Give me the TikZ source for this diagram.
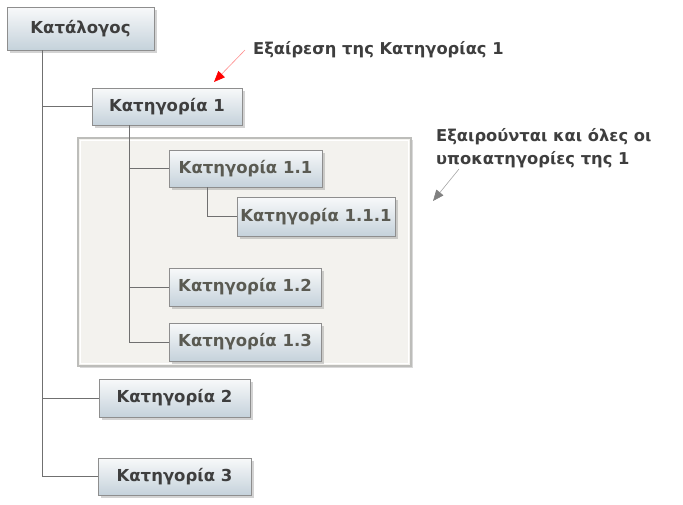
\documentclass[tikz,border=0pt]{standalone}
\usepackage{fontspec}
\setmainfont{DejaVu Sans}
\usetikzlibrary{shadows,arrows.meta,calc}
\definecolor{txtmain}{HTML}{3E3E3E}
\definecolor{txtsub}{HTML}{5A5A52}
\definecolor{boxtop}{HTML}{F8F9FA}
\definecolor{boxbot}{HTML}{C5D2DB}
\definecolor{boxline}{HTML}{8E8E8E}
\definecolor{panelfill}{HTML}{F3F2EE}
\definecolor{panelline}{HTML}{BDBDBA}
\definecolor{conn}{HTML}{707070}
\tikzset{
  catbox/.style={draw=boxline, line width=0.8pt, top color=boxtop, bottom color=boxbot,
    drop shadow={shadow xshift=2.5pt, shadow yshift=-2.5pt, opacity=0.35},
    font=\bfseries\fontsize{16.5}{18}\selectfont, text=txtmain, inner sep=0pt},
  subbox/.style={catbox, text=txtsub},
  conline/.style={draw=conn, line width=0.7pt},
  note/.style={font=\bfseries\fontsize{16.3}{23}\selectfont, text=txtmain, anchor=west, align=left, inner sep=0pt}
}
\begin{document}
\begin{tikzpicture}[x=1pt,y=-1pt]
\useasboundingbox (0,0) rectangle (683,504);
% panel
\node[draw=panelline, line width=1.2pt, fill=panelfill, minimum width=333pt, minimum height=228pt, inner sep=0pt,
  drop shadow={shadow xshift=2pt, shadow yshift=-2pt, opacity=0.3}] (panel) at (244.5,252) {};
\draw[white, line width=0.8pt] ($(panel.north west)+(3,3)$) rectangle ($(panel.south east)+(-3,-3)$);
% nodes
\node[catbox, minimum width=147pt, minimum height=43pt] (cat) at (80.5,28.5) {Κατάλογος};
\node[catbox, minimum width=150pt, minimum height=37pt] (k1) at (167,106.5) {Κατηγορία 1};
\node[subbox, minimum width=153pt, minimum height=37pt] (k11) at (245.5,168.5) {Κατηγορία 1.1};
\node[subbox, minimum width=158pt, minimum height=39pt] (k111) at (316,216.5) {Κατηγορία 1.1.1};
\node[subbox, minimum width=152pt, minimum height=38pt] (k12) at (245,287) {Κατηγορία 1.2};
\node[subbox, minimum width=152pt, minimum height=38pt] (k13) at (245,342) {Κατηγορία 1.3};
\node[catbox, minimum width=151pt, minimum height=38pt] (k2) at (174.5,398) {Κατηγορία 2};
\node[catbox, minimum width=153pt, minimum height=37pt] (k3) at (174.5,476.5) {Κατηγορία 3};
% connector guide coordinates
\coordinate (t) at (42,0);
\coordinate (u) at (129,0);
\coordinate (v) at (207,0);
\draw[conline] (t |- cat.south) |- (k1.west);
\draw[conline] (t |- cat.south) |- (k2.west);
\draw[conline] (t |- cat.south) |- (k3.west);
\draw[conline] (u |- k1.south) |- (k11.west);
\draw[conline] (u |- k1.south) |- (k12.west);
\draw[conline] (u |- k1.south) |- (k13.west);
\draw[conline] (v |- k11.south) |- (k111.west);
% notes
\node[note] (n1) at (253,50) {Εξαίρεση της Κατηγορίας 1};
\node[note] (n2) at (436,148) {Εξαιρούνται και όλες οι\\υποκατηγορίες της 1};
\coordinate (a1s) at (245,50);
\coordinate (a1e) at (214,82);
\coordinate (a2s) at (459,169);
\coordinate (a2e) at (433,201);
\draw[draw=red!45, line width=0.6pt, -{Triangle[length=11pt,width=9pt,fill=red,color=red]}] (a1s) -- (a1e);
\draw[draw=gray!70, line width=0.6pt, -{Triangle[length=11pt,width=9pt,fill=gray,color=gray]}] (a2s) -- (a2e);
\end{tikzpicture}
\end{document}
